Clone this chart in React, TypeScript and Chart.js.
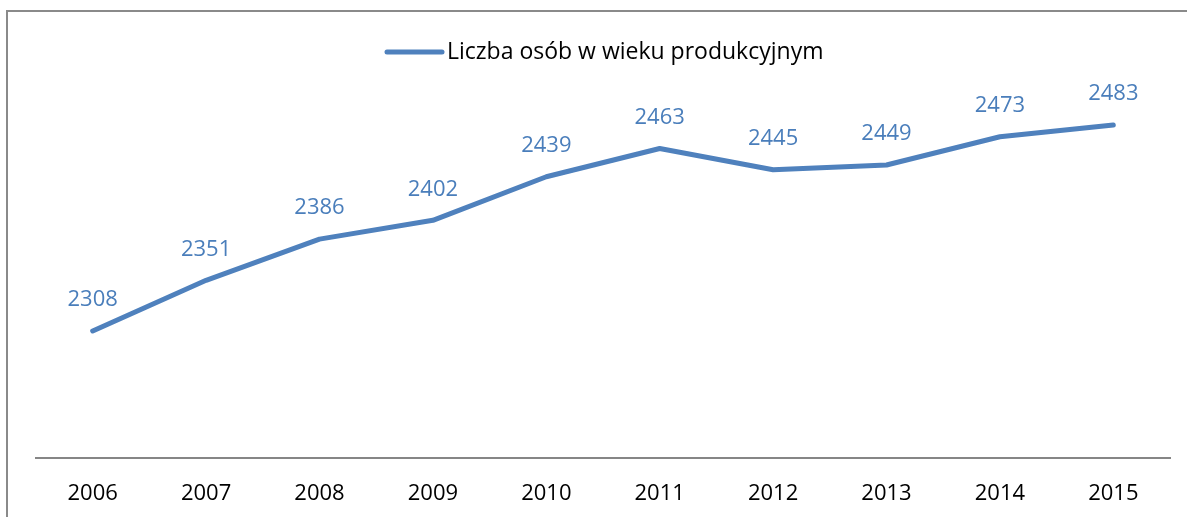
import React, { useEffect, useRef } from "react";
import { Chart, registerables } from "chart.js";

Chart.register(...registerables);

const categories = ["2006", "2007", "2008", "2009", "2010", "2011", "2012", "2013", "2014", "2015"];
const values = [2308, 2351, 2386, 2402, 2439, 2463, 2445, 2449, 2473, 2483];
const seriesLabel = "Liczba osób w wieku produkcyjnym";

const FONT = '"Open Sans", "Noto Sans", sans-serif';
const LINE_COLOR = "#4f81bd";
const LABEL_COLOR = "#4a7ebb";

const decorPlugin = {
  id: "decor",
  beforeDraw(chart: any) {
    const ctx = chart.ctx;
    ctx.save();
    ctx.strokeStyle = "#8a8a8a";
    ctx.lineWidth = 2;
    ctx.strokeRect(7, 11, chart.width + 20, chart.height + 20);
    ctx.restore();
  },
  afterDatasetsDraw(chart: any) {
    const ctx = chart.ctx;
    ctx.save();
    // data labels
    const meta = chart.getDatasetMeta(0);
    ctx.font = `22px ${FONT}`;
    ctx.fillStyle = LABEL_COLOR;
    ctx.textAlign = "center";
    ctx.textBaseline = "middle";
    meta.data.forEach((pt: any, i: number) => {
      ctx.fillText(String(values[i]), pt.x, pt.y - 31);
    });
    // legend
    const lx0 = 387, lx1 = 442, ly = 52;
    ctx.strokeStyle = LINE_COLOR;
    ctx.lineWidth = 5;
    ctx.lineCap = "round";
    ctx.beginPath();
    ctx.moveTo(lx0, ly);
    ctx.lineTo(lx1, ly);
    ctx.stroke();
    ctx.fillStyle = "#000000";
    ctx.textAlign = "left";
    ctx.font = `23px ${FONT}`;
    ctx.fillText(seriesLabel, 447, ly);
    ctx.restore();
  },
};

export default function App() {
  const ref = useRef<HTMLCanvasElement | null>(null);
  useEffect(() => {
    let chart: Chart | null = null;
    let cancelled = false;
    const make = () => {
      if (cancelled || !ref.current) return;
      chart = new Chart(ref.current, {
        type: "line",
        data: {
          labels: categories,
          datasets: [
            {
              label: seriesLabel,
              data: values,
              borderColor: LINE_COLOR,
              backgroundColor: LINE_COLOR,
              borderWidth: 5,
              borderCapStyle: "round",
              borderJoinStyle: "round",
              pointRadius: 0,
              pointHoverRadius: 0,
              tension: 0,
              fill: false,
            },
          ],
        },
        options: {
          responsive: false,
          animation: false,
          events: [],
          layout: { padding: { left: 36, right: 17, top: 105, bottom: 0 } },
          plugins: {
            legend: { display: false },
            tooltip: { enabled: false },
            title: { display: false },
          },
          scales: {
            x: {
              offset: true,
              grid: { display: false, drawTicks: false, offset: true },
              border: { display: true, color: "#868686", width: 2 },
              ticks: {
                color: "#000000",
                font: { family: FONT, size: 22 },
                padding: 23,
                maxRotation: 0,
                autoSkip: false,
              },
              afterFit(scale: any) {
                scale.height = 59;
              },
            },
            y: {
              display: false,
              min: 2200,
              max: 2500,
            },
          },
        },
        plugins: [decorPlugin],
      });
    };
    const fontsAny: any = (document as any).fonts;
    if (fontsAny && fontsAny.load) {
      fontsAny.load(`22px "Open Sans"`).then(make, make);
    } else {
      make();
    }
    return () => {
      cancelled = true;
      if (chart) chart.destroy();
    };
  }, []);
  return (
    <div style={{ position: "absolute", left: 0, top: 0, width: 1187, height: 517, background: "#fff" }}>
      <canvas ref={ref} width={1187} height={517} style={{ display: "block" }} />
    </div>
  );
}
